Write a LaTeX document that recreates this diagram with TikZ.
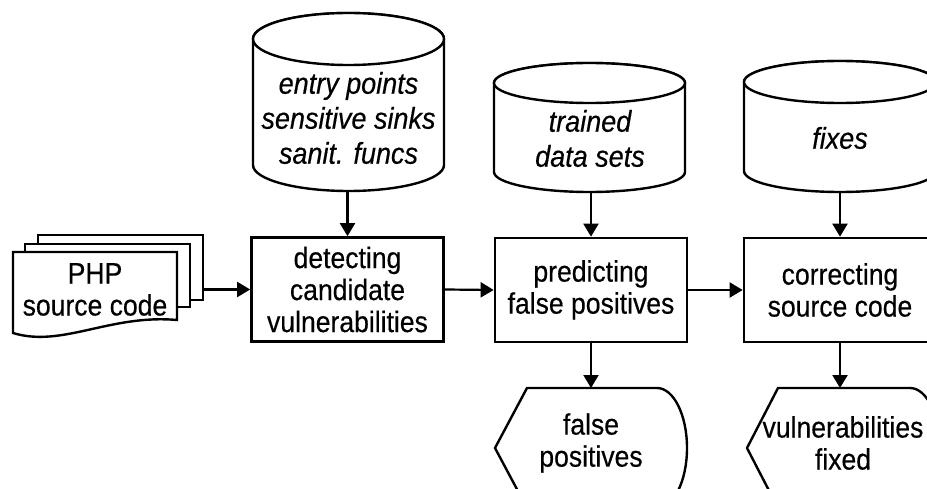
\documentclass[tikz,border=0pt]{standalone}
\usepackage{fontspec}
\setmainfont[FakeStretch=0.9,FakeBold=0.4]{Liberation Sans}
\usetikzlibrary{arrows.meta}
\begin{document}
\begin{tikzpicture}[x=1pt,y=-1pt,
  proc/.style={draw, line width=2.7pt, minimum width=192pt, minimum height=104pt, inner sep=0pt, align=center, font={\fontsize{29.5}{32}\selectfont}},
  store/.style={draw, line width=2.4pt, fill=white},
  txt/.style={align=center, inner sep=0pt, font={\fontsize{29.5}{32}\selectfont}},
  dbtext/.style={align=center, inner sep=0pt, font={\fontsize{30}{35}\selectfont\itshape}},
  flow/.style={line width=2.2pt, -{Triangle[length=13pt,width=15pt]}}]
\useasboundingbox (0,0) rectangle (927,489);
\clip (0,0) rectangle (927,489);
% cylinders
\draw[store] (253,39) -- (253,165) arc[start angle=180,end angle=360,x radius=95.5pt,y radius=26pt] -- (444,39) arc[start angle=0,end angle=180,x radius=95.5pt,y radius=26pt] -- cycle;
\draw[store] (348.5,39) ellipse [x radius=95.5pt, y radius=26pt];
\node[dbtext] (c1) at (348.5,118) {entry points\\sensitive sinks\\sanit. funcs};
\coordinate (c1b) at (347.5,191);
\draw[store] (494,83) -- (494,172) arc[start angle=180,end angle=360,x radius=95.5pt,y radius=20pt] -- (685,83) arc[start angle=0,end angle=180,x radius=95.5pt,y radius=20pt] -- cycle;
\draw[store] (589.5,83) ellipse [x radius=95.5pt, y radius=20pt];
\node[dbtext] (c2) at (590,138.5) {trained\\data sets};
\coordinate (c2b) at (591,192);
\draw[store] (744,82) -- (744,171) arc[start angle=180,end angle=360,x radius=96pt,y radius=21pt] -- (936,82) arc[start angle=0,end angle=180,x radius=96pt,y radius=21pt] -- cycle;
\draw[store] (840,82) ellipse [x radius=96pt, y radius=21pt];
\node[dbtext] (c3) at (840,138) {fixes};
\coordinate (c3b) at (840,192);
% process boxes
\node[proc] (det) at (347.5,289.5) {detecting\\candidate\\vulnerabilities};
\node[proc] (pred) at (591,290) {predicting\\false positives};
\node[proc] (corr) at (840,290) {correcting\\source code};
% PHP documents
\node[store, minimum width=165pt, minimum height=65pt, inner sep=0pt] (pg3) at (120.5,267.5) {};
\node[store, minimum width=165pt, minimum height=63pt, inner sep=0pt] (pg2) at (107.5,275.5) {};
\draw[store] (13,252) -- (177,252) -- (177,320) .. controls (110,314) and (62,348) .. (13,333) -- cycle;
\node[txt] (php) at (95,289.5) {PHP\\source code};
% displays
\draw[store] (495,448) -- (527,388) -- (657,388) arc[start angle=90,end angle=-90,x radius=30pt,y radius=60pt] -- (527,508) -- cycle;
\node[txt] (fp) at (591,443) {false\\positives};
\coordinate (fpt) at (591,388);
\draw[store] (747,448) -- (778,388) -- (910,388) arc[start angle=90,end angle=-90,x radius=30pt,y radius=60pt] -- (778,508) -- cycle;
\node[txt] (vf) at (843,443) {vulnerabilities\\fixed};
\coordinate (vft) at (840,388);
% connectors
\draw[flow] (c1b) -- (det.north);
\draw[flow] (c2b) -- (pred.north);
\draw[flow] (c3b) -- (corr.north);
\draw[flow] (pg3.east |- det.west) -- (det.west);
\draw[flow] (det.east) -- (pred.west);
\draw[flow] (pred.east) -- (corr.west);
\draw[flow] (pred.south) -- (fpt);
\draw[flow] (corr.south) -- (vft);
\end{tikzpicture}
\end{document}
